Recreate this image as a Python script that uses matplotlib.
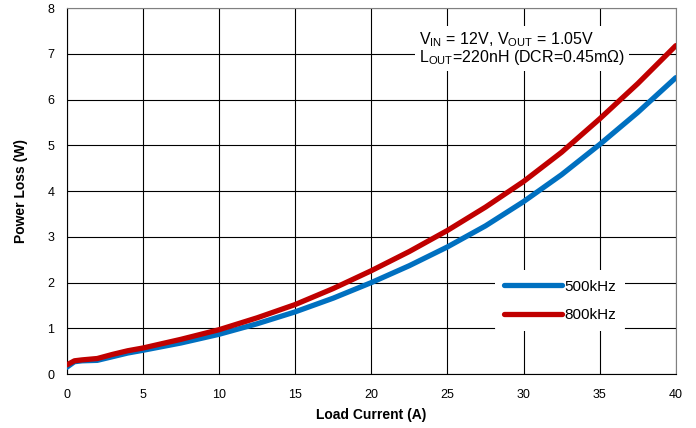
import numpy as np
import matplotlib.pyplot as plt

plt.rcParams['font.family'] = ['Liberation Sans', 'DejaVu Sans']
plt.rcParams['mathtext.fontset'] = 'custom'
plt.rcParams['mathtext.rm'] = 'Liberation Sans'

# load current (A)
x = [0, 0.5, 1, 2, 3, 4, 5, 7.5, 10, 12.5, 15, 17.5, 20, 22.5, 25, 27.5, 30, 32.5, 35, 37.5, 40]
# power loss (W)
p500 = [0.15, 0.27, 0.29, 0.30, 0.38, 0.46, 0.52, 0.68, 0.87, 1.10, 1.36, 1.66, 2.00, 2.37, 2.78, 3.24, 3.77, 4.36, 5.02, 5.72, 6.48]
p800 = [0.20, 0.29, 0.31, 0.34, 0.43, 0.51, 0.57, 0.76, 0.97, 1.23, 1.52, 1.87, 2.26, 2.68, 3.14, 3.65, 4.21, 4.85, 5.58, 6.35, 7.18]

fig = plt.figure(figsize=(6.96, 4.28), dpi=100)
ax = fig.add_axes([0.096, 0.126, 0.875, 0.855])

ax.plot(x, p500, color='#0070C0', lw=3.8, solid_capstyle='round', label='500kHz', zorder=3)
ax.plot(x, p800, color='#C00000', lw=3.8, solid_capstyle='round', label='800kHz', zorder=3)

ax.set_xlim(0, 40)
ax.set_ylim(0, 8)
ax.set_xticks(range(0, 41, 5))
ax.set_yticks(range(0, 9))
ax.grid(True, color='black', lw=0.8)
ax.tick_params(axis='x', length=0, labelsize=9, pad=11)
ax.tick_params(axis='y', length=0, labelsize=9, pad=9)
for s in ['top', 'right']:
    ax.spines[s].set_color('#808080')
for s in ['left', 'bottom']:
    ax.spines[s].set_color('black')

ax.set_xlabel('Load Current (A)', fontsize=10, fontweight='bold', labelpad=5)
ax.set_ylabel('Power Loss (W)', fontsize=10, fontweight='bold', labelpad=14)

txt = ('V$_{\\mathregular{IN}}$ = 12V, V$_{\\mathregular{OUT}}$ = 1.05V\n'
       'L$_{\\mathregular{OUT}}$=220nH (DCR=0.45m\u03a9)')
ax.text(0.578, 0.94, txt, transform=ax.transAxes, fontsize=11.5, va='top', ha='left',
        linespacing=0.95, zorder=4,
        bbox=dict(facecolor='white', edgecolor='none', pad=3))

leg = ax.legend(loc='center left', bbox_to_anchor=(0.69, 0.20), frameon=True,
                fontsize=11, handlelength=3.8, handletextpad=0.15, labelspacing=0.95,
                borderpad=0.6)
leg.get_frame().set_edgecolor('none')
leg.get_frame().set_facecolor('white')
leg.get_frame().set_alpha(1)

fig.savefig('out.png', dpi=100)
